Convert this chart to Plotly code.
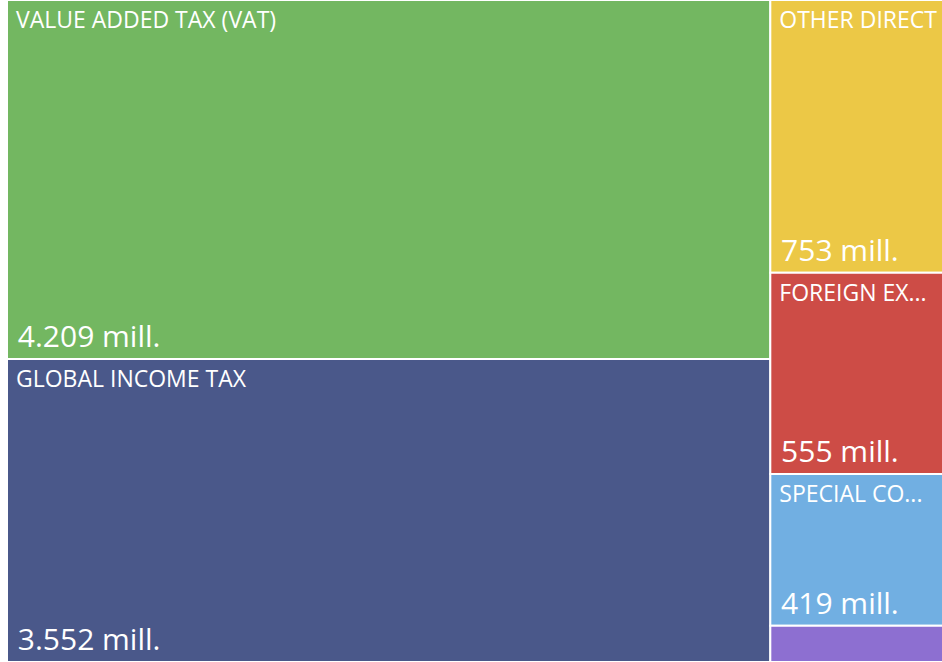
import plotly.graph_objects as go

# Tax revenue by category, in millions
categories = [
    "VALUE ADDED TAX (VAT)",
    "GLOBAL INCOME TAX",
    "OTHER DIRECT",
    "FOREIGN EX...",
    "SPECIAL CO...",
    "OTHER",
]
revenue = [4209, 3552, 753, 555, 419, 100]
show_label = [True, True, True, True, True, False]
colors = ["#73B761", "#4A588A", "#ECC846", "#CD4C46", "#71AFE2", "#8D6FD1"]

parents = [""] * len(categories)
nb = "\u00a0"
label_text = [(nb + c) if s else "" for c, s in zip(categories, show_label)]
value_tmpl = [(nb + "%{value:,} mill.") if s else "" for s in show_label]

tiling = dict(packing="squarify", squarifyratio=2, pad=0)
no_pad = dict(t=0, l=0, r=0, b=0)

fig = go.Figure()

# coloured tiles with the category name in the upper-left corner
fig.add_trace(go.Treemap(
    ids=categories,
    labels=categories,
    parents=parents,
    values=revenue,
    text=label_text,
    texttemplate="%{text}",
    textposition="top left",
    textfont=dict(family="Open Sans", size=23, color="white"),
    marker=dict(colors=colors, line=dict(color="white", width=2), pad=no_pad),
    tiling=tiling,
    pathbar=dict(visible=False),
    sort=True,
    hoverinfo="skip",
    domain=dict(x=[0, 1], y=[0, 1]),
))

# same tiling, transparent, carrying the value in the lower-left corner
fig.add_trace(go.Treemap(
    ids=categories,
    labels=categories,
    parents=parents,
    values=revenue,
    texttemplate=value_tmpl,
    textposition="bottom left",
    textfont=dict(family="Open Sans", size=30, color="white"),
    marker=dict(colors=["rgba(0,0,0,0)"] * len(categories),
                line=dict(color="rgba(0,0,0,0)", width=0), pad=no_pad),
    tiling=tiling,
    pathbar=dict(visible=False),
    sort=True,
    hovertemplate="%{label}: %{value:,} mill.<extra></extra>",
    domain=dict(x=[0, 1], y=[0, 1]),
))

# the treemap runs a little past the right edge of the window
fig.update_layout(
    width=950,
    height=662,
    margin=dict(l=7, r=0, t=0, b=0),
    separators=",.",
    paper_bgcolor="white",
    showlegend=False,
)

fig.write_html(
    "out.html",
    post_script=(
        "document.documentElement.style.overflow='hidden';"
        "document.body.style.overflow='hidden';"
        "document.body.style.margin='0';"
    ),
)
